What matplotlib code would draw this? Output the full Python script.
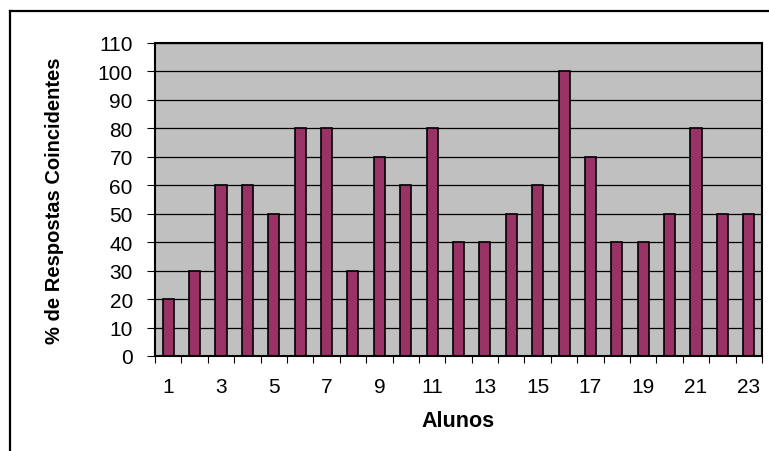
import numpy as np
import matplotlib
matplotlib.use("Agg")
import matplotlib.pyplot as plt
from matplotlib.lines import Line2D

plt.rcParams["font.family"] = ["Liberation Sans", "DejaVu Sans"]

alunos = list(range(1, 24))
respostas = [20, 30, 60, 60, 50, 80, 80, 30, 70, 60, 80, 40, 40,
             50, 60, 100, 70, 40, 40, 50, 80, 50, 50]
y_ticks = list(range(0, 111, 10))
x_labels = [str(a) for a in alunos if a % 2 == 1]

W, H = 769, 452
fig = plt.figure(figsize=(W / 100, H / 100), dpi=100)
ax = fig.add_axes([155 / W, 1 - 357 / H, (762 - 155) / W, (357 - 44) / H])

x = np.arange(len(alunos))
ax.set_facecolor("#C0C0C0")
ax.bar(x, respostas, width=0.42, color="#993366", edgecolor="black", linewidth=1.2, zorder=3)

ax.set_ylim(0, 110)
ax.set_xlim(-0.5, len(alunos) - 0.5)
ax.set_yticks(y_ticks)
ax.yaxis.grid(True, color="black", linewidth=0.9, zorder=1)
ax.tick_params(axis="y", direction="out", length=6, width=0.8, labelsize=15, pad=10)

# ticks at category boundaries, labels at odd category centres
ax.set_xticks(np.arange(-0.5, len(alunos)), labels=[""] * (len(alunos) + 1))
ax.tick_params(axis="x", which="major", direction="out", length=5, width=0.8)
odd_pos = [i for i, a in enumerate(alunos) if a % 2 == 1]
ax.set_xticks(odd_pos, labels=x_labels, minor=True)
ax.tick_params(axis="x", which="minor", length=0, labelsize=15, pad=15)

for s in ax.spines.values():
    s.set_linewidth(1.5)
    s.set_color("black")
    s.set_zorder(4)

ax.set_xlabel("Alunos", fontsize=15.5, fontweight="bold")
ax.xaxis.set_label_coords(0.5, -(422 - 357) / 313, transform=ax.transAxes)
ax.xaxis.label.set_va("center")
ax.set_ylabel("% de Respostas Coincidentes", fontsize=14.5, fontweight="bold")
ax.yaxis.set_label_coords(-(155 - 55) / 607, 0.5, transform=ax.transAxes)
ax.yaxis.label.set_va("center")

# chart area border (only top and left fall inside the image)
fig.add_artist(Line2D([10 / W, 10 / W], [0, 1 - 12 / H], transform=fig.transFigure, color="black", lw=1.6))
fig.add_artist(Line2D([10 / W, 1], [1 - 12 / H, 1 - 12 / H], transform=fig.transFigure, color="black", lw=1.6))

fig.savefig("out.png", dpi=100)
